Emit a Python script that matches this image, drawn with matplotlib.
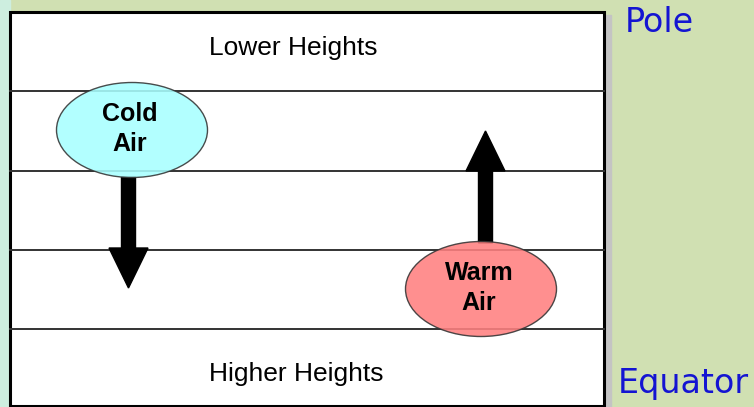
import matplotlib
matplotlib.use("Agg")
import matplotlib.pyplot as plt
from matplotlib.patches import Ellipse, Rectangle

# layer boundaries inside the box (pixel rows)
layer_lines = [91, 171, 250, 329]
box_left, box_right, box_top, box_bottom = 10, 604, 12, 406

band_labels = ["Lower Heights", "Higher Heights"]
band_label_pos = [(293, 48), (296, 374)]

# air masses: label, centre, fill colour
air_labels = ["Cold\nAir", "Warm\nAir"]
air_centres = [(132, 130), (481, 289)]
air_colours = ["#a8ffff", "#ff8080"]
air_size = (151, 95)

# arrows: start (x, y) and end (x, y)
arrow_starts = [(128.5, 177), (485.5, 243)]
arrow_ends = [(128.5, 288), (485.5, 131)]

side_labels = ["Pole", "Equator"]
side_label_pos = [(659, 22), (683, 384)]

fig = plt.figure(figsize=(7.54, 4.07), dpi=100)
ax = fig.add_axes([0, 0, 1, 1])
ax.set_xlim(0, 754)
ax.set_ylim(407, 0)
ax.axis("off")

# background texture strips
ax.add_patch(Rectangle((0, 0), 754, 407, color="#d0e0b2", zorder=0))
ax.add_patch(Rectangle((0, 0), box_left, 407, color="#cdeedf", zorder=0))
ax.add_patch(Rectangle((box_right, box_top + 3), 7, 407, color="#c4c4c4", zorder=0.5))

# white box
ax.add_patch(Rectangle((box_left, box_top), box_right - box_left, box_bottom - box_top,
                       facecolor="white", edgecolor="black", linewidth=2.2, zorder=1))

for y in layer_lines:
    ax.plot([box_left, box_right], [y, y], color="#333333", linewidth=1.4, zorder=2)

for (x0, y0), (x1, y1) in zip(arrow_starts, arrow_ends):
    ax.arrow(x0, y0, x1 - x0, y1 - y0, width=14, head_width=39, head_length=40,
             length_includes_head=True, color="black", zorder=3)

for lab, (cx, cy), col in zip(air_labels, air_centres, air_colours):
    ax.add_patch(Ellipse((cx, cy), air_size[0], air_size[1], facecolor=col,
                         edgecolor="#333333", linewidth=1.0, alpha=0.88, zorder=4))
    ax.text(cx - 2, cy - 1, lab, ha="center", va="center", fontsize=18, fontweight="bold",
            family="Liberation Sans", linespacing=1.35, zorder=5)

for lab, (x, y) in zip(band_labels, band_label_pos):
    ax.text(x, y, lab, ha="center", va="center", fontsize=19,
            family="Liberation Sans", color="black", zorder=5)

for lab, (x, y) in zip(side_labels, side_label_pos):
    ax.text(x, y, lab, ha="center", va="center", fontsize=24,
            family="DejaVu Sans", color="#1414d2", zorder=5)

fig.savefig("out.png", dpi=100)
